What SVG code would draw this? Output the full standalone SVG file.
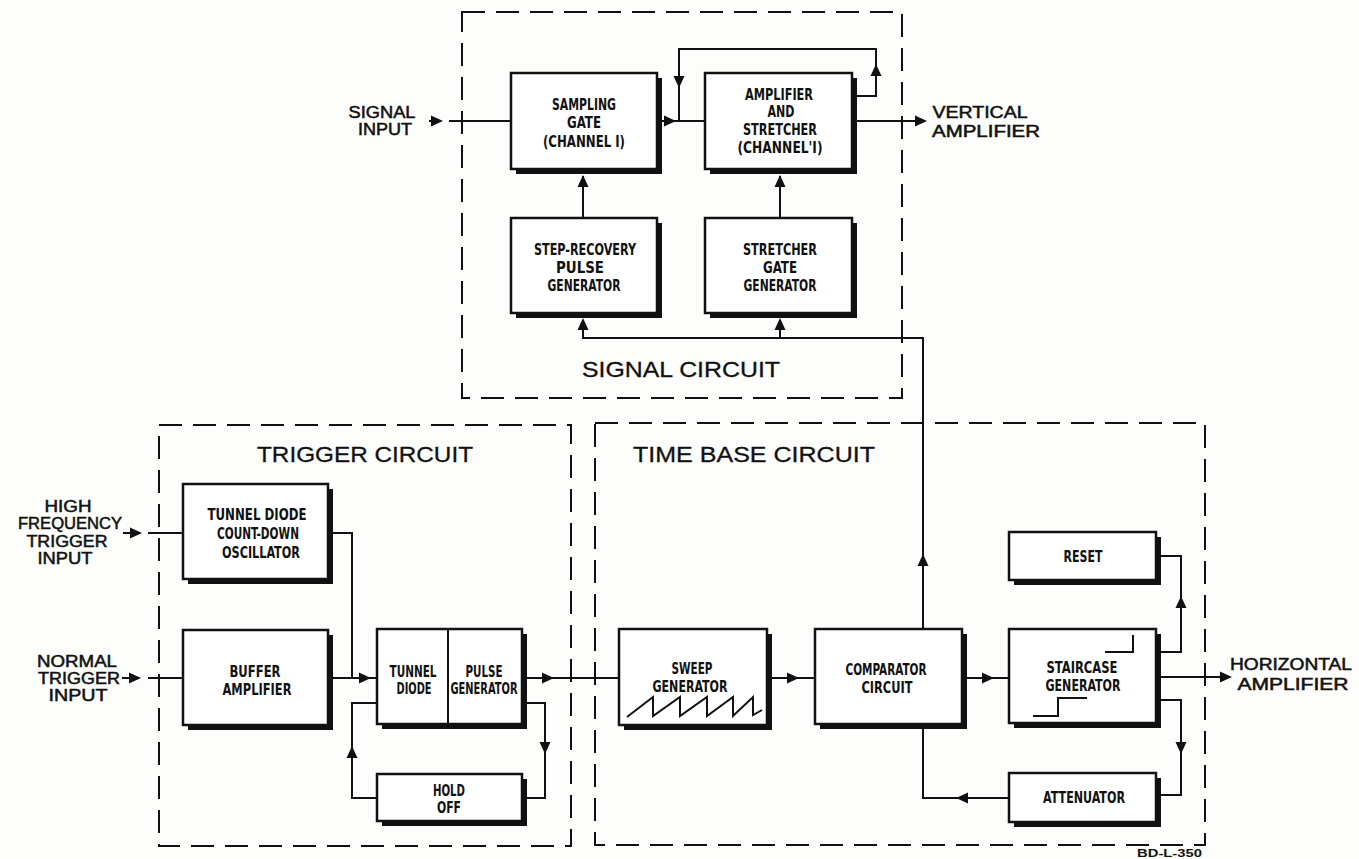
<svg xmlns="http://www.w3.org/2000/svg" xmlns:xlink="http://www.w3.org/1999/xlink" width="1359" height="859" viewBox="0 0 1359 859">
<style>
.bg{fill:#fdfdfb}
.dash{fill:none;stroke:#111;stroke-width:2;stroke-dasharray:23 11}
.sh{fill:#111}
.bx{fill:#fff;stroke:#111;stroke-width:2.5}
.ln{fill:none;stroke:#111;stroke-width:2}
.ah{fill:#111}
.bt{font-family:"Liberation Sans Narrow","DejaVu Sans Condensed","Liberation Sans",sans-serif;font-weight:bold;font-size:16.5px;fill:#111;text-anchor:middle}
.ol{font-family:"Liberation Sans","DejaVu Sans",sans-serif;font-size:16px;fill:#111;stroke:#111;stroke-width:0.5;text-anchor:middle}
.hd{font-family:"Liberation Sans","DejaVu Sans",sans-serif;font-size:22px;fill:#111;stroke:#111;stroke-width:0.3}
.id{font-family:"Liberation Sans","DejaVu Sans",sans-serif;font-weight:bold;font-size:10px;fill:#111}
</style>
<defs>
<path id="ah" d="M0,0 L-12,-5.5 L-12,5.5 Z"/>
</defs>
<rect class="bg" x="0" y="0" width="1359" height="859"/>

<g id="regions">
<rect class="dash" x="462" y="12" width="440" height="386"/>
<rect class="dash" x="159" y="425" width="412" height="421"/>
<rect class="dash" x="595" y="423" width="610" height="422"/>
<text class="hd" x="582" y="377" textLength="198" lengthAdjust="spacingAndGlyphs">SIGNAL CIRCUIT</text>
<text class="hd" x="257" y="462" textLength="216" lengthAdjust="spacingAndGlyphs">TRIGGER CIRCUIT</text>
<text class="hd" x="633" y="462" textLength="242" lengthAdjust="spacingAndGlyphs">TIME BASE CIRCUIT</text>
</g>

<g id="connectors">
<path class="ln" d="M429,121 H437 M449,121 H511"/>
<path class="ln" d="M657,121 H705"/>
<path class="ln" d="M679,121 V49 H876 V96 H856"/>
<path class="ln" d="M852,121 H918"/>
<path class="ln" d="M583,218 V176"/>
<path class="ln" d="M780,218 V176"/>
<path class="ln" d="M923,629 V338 H583 V320 M780,338 V320"/>
<path class="ln" d="M123,533 H132 M148,533 H183"/>
<path class="ln" d="M122,678 H131 M148,678 H183"/>
<path class="ln" d="M328,533 H352 V678"/>
<path class="ln" d="M328,678 H377"/>
<path class="ln" d="M522,678 H619"/>
<path class="ln" d="M522,703 H545 V798 H527"/>
<path class="ln" d="M377,798 H352 V703 H377"/>
<path class="ln" d="M767,678 H815"/>
<path class="ln" d="M962,678 H1008"/>
<path class="ln" d="M923,724 V798 H1008"/>
<path class="ln" d="M1156,652 H1181 V556 H1161"/>
<path class="ln" d="M1156,677 H1222"/>
<path class="ln" d="M1156,700 H1181 V795 H1161"/>
<use xlink:href="#ah" class="ah" transform="translate(443,121)"/>
<use xlink:href="#ah" class="ah" transform="translate(676,121)"/>
<use xlink:href="#ah" class="ah" transform="translate(679,88) rotate(90)"/>
<use xlink:href="#ah" class="ah" transform="translate(876,64) rotate(-90)"/>
<use xlink:href="#ah" class="ah" transform="translate(927,121)"/>
<use xlink:href="#ah" class="ah" transform="translate(583,175) rotate(-90)"/>
<use xlink:href="#ah" class="ah" transform="translate(780,175) rotate(-90)"/>
<use xlink:href="#ah" class="ah" transform="translate(583,318) rotate(-90)"/>
<use xlink:href="#ah" class="ah" transform="translate(780,318) rotate(-90)"/>
<use xlink:href="#ah" class="ah" transform="translate(923,554) rotate(-90)"/>
<use xlink:href="#ah" class="ah" transform="translate(142,533)"/>
<use xlink:href="#ah" class="ah" transform="translate(141,678)"/>
<use xlink:href="#ah" class="ah" transform="translate(371,678)"/>
<use xlink:href="#ah" class="ah" transform="translate(554,678)"/>
<use xlink:href="#ah" class="ah" transform="translate(545,754) rotate(90)"/>
<use xlink:href="#ah" class="ah" transform="translate(352,746) rotate(-90)"/>
<use xlink:href="#ah" class="ah" transform="translate(799,678)"/>
<use xlink:href="#ah" class="ah" transform="translate(994,678)"/>
<use xlink:href="#ah" class="ah" transform="translate(956,798) rotate(180)"/>
<use xlink:href="#ah" class="ah" transform="translate(1181,596) rotate(-90)"/>
<use xlink:href="#ah" class="ah" transform="translate(1232,677)"/>
<use xlink:href="#ah" class="ah" transform="translate(1181,754) rotate(90)"/>
</g>

<g id="sampling-gate">
<rect class="sh" x="516" y="78" width="146" height="96"/>
<rect class="bx" x="511" y="73" width="146" height="96"/>
<text class="bt" x="584" y="110" textLength="64" lengthAdjust="spacingAndGlyphs">SAMPLING</text>
<text class="bt" x="584" y="128" textLength="34" lengthAdjust="spacingAndGlyphs">GATE</text>
<text class="bt" x="584" y="147" textLength="82" lengthAdjust="spacingAndGlyphs">(CHANNEL I)</text>
</g>
<g id="amplifier-stretcher">
<rect class="sh" x="710" y="78" width="147" height="96"/>
<rect class="bx" x="705" y="73" width="147" height="96"/>
<text class="bt" x="779" y="100" textLength="68" lengthAdjust="spacingAndGlyphs">AMPLIFIER</text>
<text class="bt" x="781" y="117" textLength="27" lengthAdjust="spacingAndGlyphs">AND</text>
<text class="bt" x="780" y="135" textLength="74" lengthAdjust="spacingAndGlyphs">STRETCHER</text>
<text class="bt" x="780" y="153" textLength="85" lengthAdjust="spacingAndGlyphs">(CHANNEL'I)</text>
</g>
<g id="step-recovery">
<rect class="sh" x="516" y="223" width="146" height="95"/>
<rect class="bx" x="511" y="218" width="146" height="95"/>
<text class="bt" x="585" y="255" textLength="102" lengthAdjust="spacingAndGlyphs">STEP-RECOVERY</text>
<text class="bt" x="580" y="273" textLength="48" lengthAdjust="spacingAndGlyphs">PULSE</text>
<text class="bt" x="584" y="291" textLength="73" lengthAdjust="spacingAndGlyphs">GENERATOR</text>
</g>
<g id="stretcher-gate">
<rect class="sh" x="710" y="223" width="147" height="95"/>
<rect class="bx" x="705" y="218" width="147" height="95"/>
<text class="bt" x="780" y="255" textLength="74" lengthAdjust="spacingAndGlyphs">STRETCHER</text>
<text class="bt" x="780" y="273" textLength="34" lengthAdjust="spacingAndGlyphs">GATE</text>
<text class="bt" x="780" y="291" textLength="73" lengthAdjust="spacingAndGlyphs">GENERATOR</text>
</g>

<g id="count-down-oscillator">
<rect class="sh" x="188" y="489" width="145" height="95"/>
<rect class="bx" x="183" y="484" width="145" height="95"/>
<text class="bt" x="257" y="520" textLength="99" lengthAdjust="spacingAndGlyphs">TUNNEL DIODE</text>
<text class="bt" x="258" y="539" textLength="82" lengthAdjust="spacingAndGlyphs">COUNT-DOWN</text>
<text class="bt" x="261" y="558" textLength="78" lengthAdjust="spacingAndGlyphs">OSCILLATOR</text>
</g>
<g id="buffer-amplifier">
<rect class="sh" x="188" y="635" width="145" height="95"/>
<rect class="bx" x="183" y="630" width="145" height="95"/>
<text class="bt" x="255" y="677" textLength="51" lengthAdjust="spacingAndGlyphs">BUFFER</text>
<text class="bt" x="257" y="695" textLength="69" lengthAdjust="spacingAndGlyphs">AMPLIFIER</text>
</g>
<g id="tunnel-diode-pulse-generator">
<rect class="sh" x="382" y="634" width="145" height="95"/>
<rect class="bx" x="377" y="629" width="145" height="95"/>
<line class="ln" x1="448" y1="629" x2="448" y2="724"/>
<text class="bt" x="413" y="677" textLength="47" lengthAdjust="spacingAndGlyphs">TUNNEL</text>
<text class="bt" x="414" y="694" textLength="35" lengthAdjust="spacingAndGlyphs">DIODE</text>
<text class="bt" x="484" y="677" textLength="37" lengthAdjust="spacingAndGlyphs">PULSE</text>
<text class="bt" x="484" y="694" textLength="67" lengthAdjust="spacingAndGlyphs">GENERATOR</text>
</g>
<g id="hold-off">
<rect class="sh" x="382" y="779" width="145" height="47"/>
<rect class="bx" x="377" y="774" width="145" height="47"/>
<text class="bt" x="449" y="796" textLength="32" lengthAdjust="spacingAndGlyphs">HOLD</text>
<text class="bt" x="449" y="813" textLength="24" lengthAdjust="spacingAndGlyphs">OFF</text>
</g>

<g id="sweep-generator">
<rect class="sh" x="624" y="634" width="148" height="96"/>
<rect class="bx" x="619" y="629" width="148" height="96"/>
<text class="bt" x="692" y="674" textLength="41" lengthAdjust="spacingAndGlyphs">SWEEP</text>
<text class="bt" x="690" y="692" textLength="75" lengthAdjust="spacingAndGlyphs">GENERATOR</text>
<path class="ln" stroke-width="1.5" d="M627,717 L653,697 V716 L680,697 V716 L707,697 V716 L733,697 V716 L753,697 V715 L762,710"/>
</g>
<g id="comparator-circuit">
<rect class="sh" x="820" y="634" width="147" height="95"/>
<rect class="bx" x="815" y="629" width="147" height="95"/>
<text class="bt" x="886" y="675" textLength="81" lengthAdjust="spacingAndGlyphs">COMPARATOR</text>
<text class="bt" x="887" y="693" textLength="51" lengthAdjust="spacingAndGlyphs">CIRCUIT</text>
</g>
<g id="reset">
<rect class="sh" x="1014" y="537" width="147" height="48"/>
<rect class="bx" x="1009" y="532" width="147" height="48"/>
<text class="bt" x="1083" y="562" textLength="39" lengthAdjust="spacingAndGlyphs">RESET</text>
</g>
<g id="staircase-generator">
<rect class="sh" x="1014" y="634" width="147" height="94"/>
<rect class="bx" x="1009" y="629" width="147" height="94"/>
<text class="bt" x="1082" y="673" textLength="71" lengthAdjust="spacingAndGlyphs">STAIRCASE</text>
<text class="bt" x="1083" y="691" textLength="75" lengthAdjust="spacingAndGlyphs">GENERATOR</text>
<path class="ln" stroke-width="1.5" d="M1105,652 H1133 V635 M1033,716 H1058 V698 H1087"/>
</g>
<g id="attenuator">
<rect class="sh" x="1014" y="778" width="147" height="49"/>
<rect class="bx" x="1009" y="773" width="147" height="49"/>
<text class="bt" x="1084" y="803" textLength="82" lengthAdjust="spacingAndGlyphs">ATTENUATOR</text>
</g>

<g id="external-labels">
<text class="ol" x="382" y="118" textLength="67" lengthAdjust="spacingAndGlyphs">SIGNAL</text>
<text class="ol" x="385" y="135" textLength="54" lengthAdjust="spacingAndGlyphs">INPUT</text>
<text class="ol" x="980" y="118" textLength="95" lengthAdjust="spacingAndGlyphs">VERTICAL</text>
<text class="ol" x="986" y="137" textLength="108" lengthAdjust="spacingAndGlyphs">AMPLIFIER</text>
<text class="ol" x="68" y="512" textLength="47" lengthAdjust="spacingAndGlyphs">HIGH</text>
<text class="ol" x="70" y="529" textLength="104" lengthAdjust="spacingAndGlyphs">FREQUENCY</text>
<text class="ol" x="67" y="547" textLength="81" lengthAdjust="spacingAndGlyphs">TRIGGER</text>
<text class="ol" x="65" y="564" textLength="55" lengthAdjust="spacingAndGlyphs">INPUT</text>
<text class="ol" x="77" y="667" textLength="80" lengthAdjust="spacingAndGlyphs">NORMAL</text>
<text class="ol" x="79" y="684" textLength="82" lengthAdjust="spacingAndGlyphs">TRIGGER</text>
<text class="ol" x="78" y="701" textLength="59" lengthAdjust="spacingAndGlyphs">INPUT</text>
<text class="ol" x="1291" y="670" textLength="122" lengthAdjust="spacingAndGlyphs">HORIZONTAL</text>
<text class="ol" x="1293" y="690" textLength="111" lengthAdjust="spacingAndGlyphs">AMPLIFIER</text>
<text class="id" x="1137" y="857" textLength="65" lengthAdjust="spacingAndGlyphs">BD-L-350</text>
</g>
</svg>
